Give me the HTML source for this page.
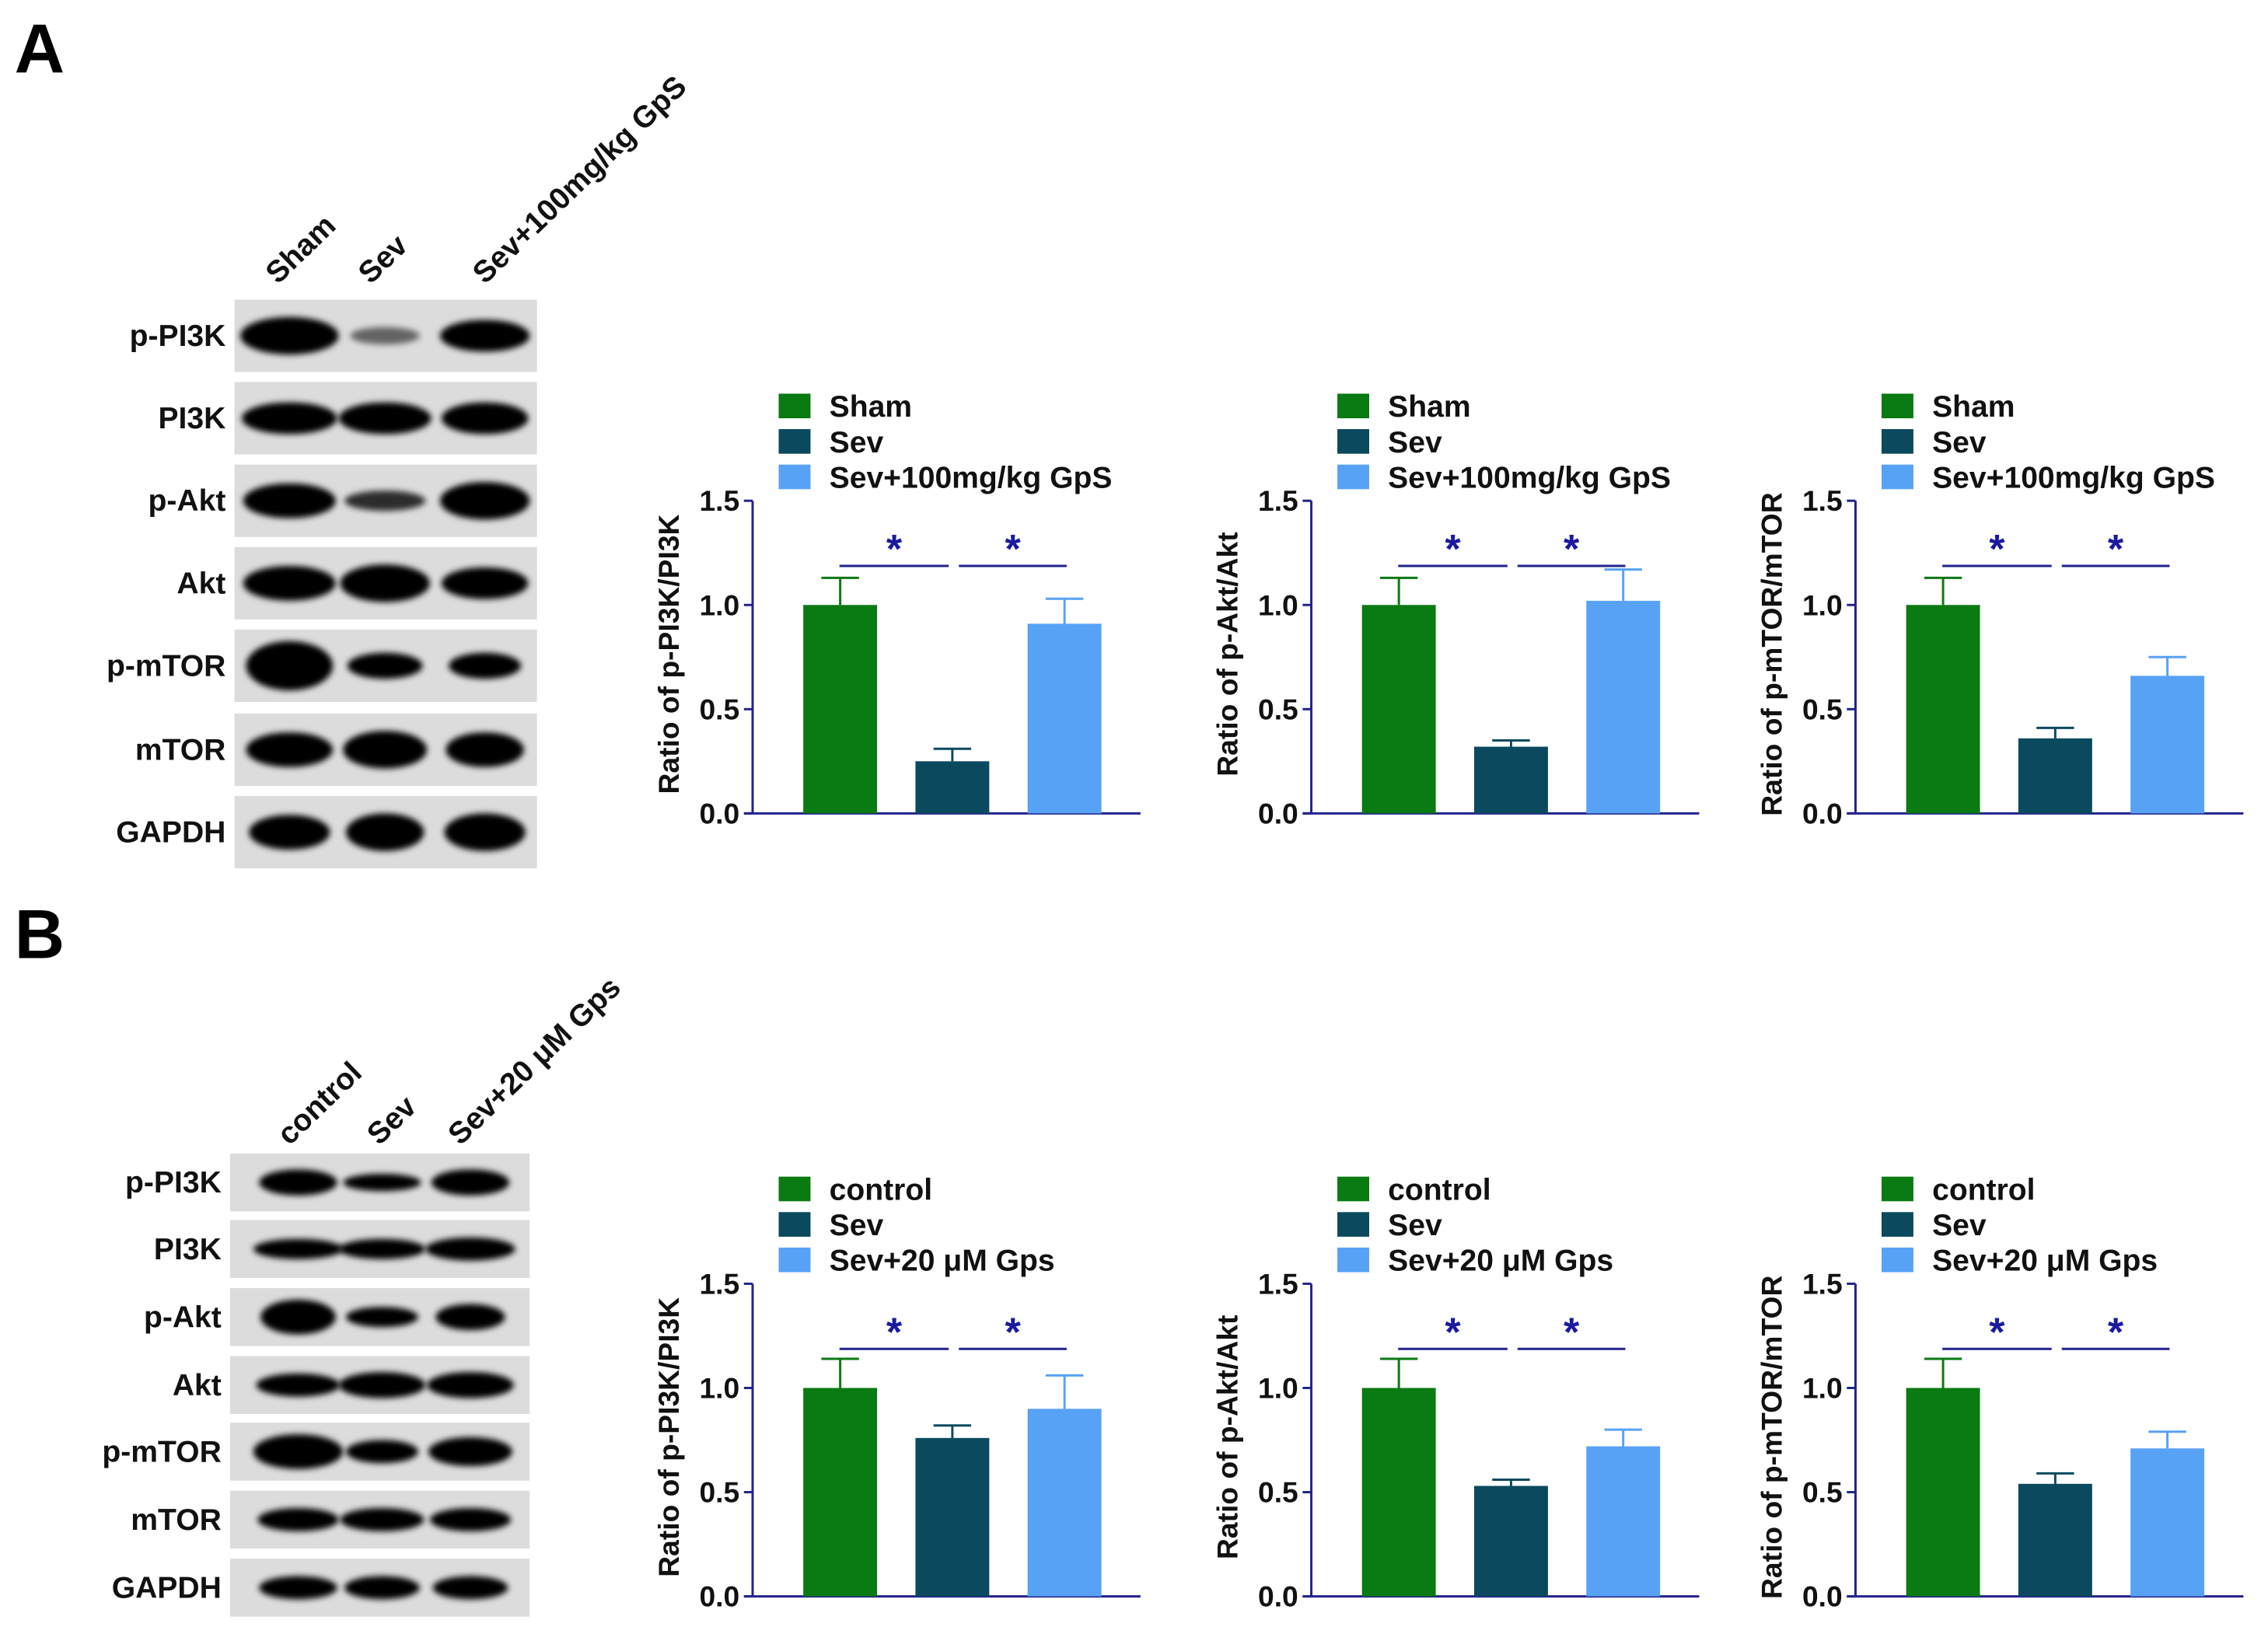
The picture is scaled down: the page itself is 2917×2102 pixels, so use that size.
<!DOCTYPE html>
<html><head><meta charset="utf-8"><style>
html,body{margin:0;padding:0;background:#fff}
svg{display:block}
text{font-family:"Liberation Sans",Arial,sans-serif;font-weight:bold}
</style></head><body>
<svg id="fig" width="2917" height="2102" viewBox="0 0 1567 1129" preserveAspectRatio="none">
<defs>
<filter id="blur" x="-30%" y="-50%" width="160%" height="200%"><feGaussianBlur stdDeviation="2.2"/></filter>
</defs>
<rect width="1567" height="1129" fill="#fff"/>
<text x="10" y="50" font-size="48">A</text>
<text x="10" y="662" font-size="48">B</text>
<g id="blots"></g>
<g id="charts"></g>
</svg>
<script>
const NS="http://www.w3.org/2000/svg";
const svg=document.getElementById('fig');
function mk(tag,attrs,parent,txt){const e=document.createElementNS(NS,tag);for(const k in attrs)e.setAttribute(k,attrs[k]);if(txt!==undefined)e.textContent=txt;(parent||svg).appendChild(e);return e;}

// ---- chart data ----
const groupsA=["Sham","Sev","Sev+100mg/kg GpS"];
const groupsB=["control","Sev","Sev+20 μM Gps"];
const yTicks=[0,0.5,1.0,1.5];
const yTickLabels=["0.0","0.5","1.0","1.5"];
const valsA1=[1.0,0.25,0.91]; const errA1=[0.13,0.06,0.12];
const valsA2=[1.0,0.32,1.02]; const errA2=[0.13,0.03,0.15];
const valsA3=[1.0,0.36,0.66]; const errA3=[0.13,0.05,0.09];
const valsB1=[1.0,0.76,0.90]; const errB1=[0.14,0.06,0.16];
const valsB2=[1.0,0.53,0.72]; const errB2=[0.14,0.03,0.08];
const valsB3=[1.0,0.54,0.71]; const errB3=[0.14,0.05,0.08];
const colors=["#0a7a12","#0b4a5e","#58a2f5"];
const axisColor="#23238c";

const charts=[
 {axX:520,base:562,title:"Ratio of p-PI3K/PI3K",groups:groupsA,vals:valsA1,err:errA1,name:"a-pi3k"},
 {axX:906,base:562,title:"Ratio of p-Akt/Akt",groups:groupsA,vals:valsA2,err:errA2,name:"a-akt"},
 {axX:1282,base:562,title:"Ratio of p-mTOR/mTOR",groups:groupsA,vals:valsA3,err:errA3,name:"a-mtor"},
 {axX:520,base:1103,title:"Ratio of p-PI3K/PI3K",groups:groupsB,vals:valsB1,err:errB1,name:"b-pi3k"},
 {axX:906,base:1103,title:"Ratio of p-Akt/Akt",groups:groupsB,vals:valsB2,err:errB2,name:"b-akt"},
 {axX:1282,base:1103,title:"Ratio of p-mTOR/mTOR",groups:groupsB,vals:valsB3,err:errB3,name:"b-mtor"}
];
const unit=144;
const cg=document.getElementById('charts');
charts.forEach(c=>{
 const g=mk('g',{},cg);
 
 
 const y=v=>c.base-v*unit;
 const bx=i=>c.axX+35+i*77.5;
 const bw=51;
 const ya=mk('line',{x1:c.axX,x2:c.axX,y1:y(1.5),y2:c.base,stroke:axisColor,'stroke-width':1.6},g);
 
 const xa=mk('line',{x1:c.axX-6,x2:c.axX+268,y1:c.base,y2:c.base,stroke:axisColor,'stroke-width':1.6},g);
 
 yTicks.forEach((t,i)=>{
  mk('line',{x1:c.axX-6,x2:c.axX,y1:y(t),y2:y(t),stroke:axisColor,'stroke-width':1.6},g);
  const tl=mk('text',{x:c.axX-9,y:y(t)+7,'font-size':20,'text-anchor':'end',fill:'#111'},g,yTickLabels[i]);
  
 });
 const tt=mk('text',{x:0,y:0,'font-size':20,'text-anchor':'middle',fill:'#111',transform:`translate(${c.axX-51},${c.base-110}) rotate(-90)`},g,c.title);
 
 c.vals.forEach((v,i)=>{
  const cx=bx(i)+bw/2, top=y(v+c.err[i]);
  const el=mk('line',{x1:cx,x2:cx,y1:y(v),y2:top,stroke:colors[i],'stroke-width':1.6},g);
  
  mk('line',{x1:cx-13,x2:cx+13,y1:top,y2:top,stroke:colors[i],'stroke-width':1.6},g);
  const b=mk('rect',{x:bx(i),y:y(v),width:bw,height:c.base-y(v),fill:colors[i]},g);
  
 });
 const sy=c.base-171;
 [[bx(0)+25,bx(1)+23],[bx(1)+30,bx(2)+27]].forEach(p=>{
  const l=mk('line',{x1:p[0],x2:p[1],y1:sy,y2:sy,stroke:axisColor,'stroke-width':1.6},g);
  
  const s=mk('text',{x:(p[0]+p[1])/2,y:sy-2,'font-size':28,'text-anchor':'middle',fill:'#1a1aa0'},g,'*');
  
 });
 const lx=c.axX+18, ly=c.base-290;
 c.groups.forEach((gname,i)=>{
  const r=mk('rect',{x:lx,y:ly+i*24.5,width:22,height:17,fill:colors[i]},g);
  
  const t=mk('text',{x:lx+35,y:ly+i*24.5+16,'font-size':21,fill:'#111'},g,gname);
  
 });
});

// ---- blots ----
const bg=document.getElementById('blots');
const rowLabels=["p-PI3K","PI3K","p-Akt","Akt","p-mTOR","mTOR","GAPDH"];
const blotA={x:162,w:209,tops:[207,264,321,378,435,493,550],h:50,lanes:[200,266,335],
 bands:[[[34,13,1],[24,6,0.55],[31,11,1]],[[33,11,1],[32,11,1],[30,11,1]],[[32,12,1],[28,7,0.8],[31,13,1]],[[32,12,1],[31,13,1],[30,11,1]],[[30,17,1],[26,9,1],[25,9,1]],[[30,12,1],[29,13,1],[27,12,1]],[[28,12,1],[27,13,1],[28,13,1]]]};
const blotB={x:159,w:207,tops:[797,843,890,937,983,1030,1077],h:40,lanes:[206,264,325],
 bands:[[[27,9,1],[27,6,1],[27,9,1]],[[31,7,1],[30,7,1],[31,8,1]],[[26,12,1],[25,7,1],[24,9,1]],[[29,8,1],[30,9,1],[30,9,1]],[[31,12,1],[25,8,1],[29,10,1]],[[28,8,1],[29,8,1],[28,8,1]],[[27,8,1],[26,8,1],[26,8,1]]]};
[[blotA,'a'],[blotB,'b']].forEach(([B,p])=>{
 B.tops.forEach((t,r)=>{
  const rg=mk('g',{},bg);
  
  
  mk('rect',{x:B.x,y:t,width:B.w,height:B.h,fill:'#dcdcdc'},rg);
  B.bands[r].forEach((bd,i)=>{
   mk('ellipse',{cx:B.lanes[i],cy:t+B.h/2,rx:bd[0],ry:bd[1],fill:'#000','fill-opacity':bd[2],filter:'url(#blur)'},rg);
  });
  const l=mk('text',{x:B.x-6,y:t+B.h/2+7,'font-size':21,'text-anchor':'end',fill:'#111'},bg,rowLabels[r]);
  
 });
});
const laneA=[[192,197,"Sham"],[256,197,"Sev"],[335,197,"Sev+100mg/kg GpS"]];
const laneB=[[200,792,"control"],[262,792,"Sev"],[318,792,"Sev+20 μM Gps"]];
laneA.concat(laneB).forEach(l=>{
 const t=mk('text',{x:0,y:0,'font-size':21,fill:'#111',transform:`translate(${l[0]},${l[1]}) rotate(-44)`},bg,l[2]);
 
});
</script>
</body></html>
